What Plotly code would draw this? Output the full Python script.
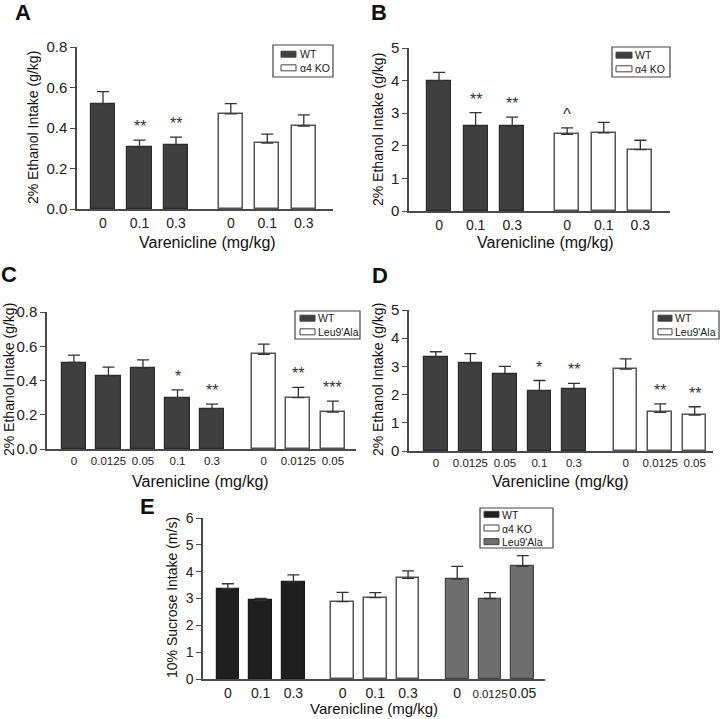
import plotly.graph_objects as go

# ---------------- DATA ----------------
# Panel A: 2% ethanol intake, WT vs a4 KO
a_doses_wt = ["0", "0.1", "0.3"]
a_doses_ko = ["0", "0.1", "0.3"]
a_wt = [0.52, 0.305, 0.315]
a_wt_err = [0.06, 0.035, 0.04]
a_ko = [0.47, 0.325, 0.41]
a_ko_err = [0.05, 0.045, 0.055]
a_sig_wt = ["", "**", "**"]
a_sig_ko = ["", "", ""]

# Panel B
b_doses_wt = ["0", "0.1", "0.3"]
b_doses_ko = ["0", "0.1", "0.3"]
b_wt = [4.0, 2.6, 2.6]
b_wt_err = [0.25, 0.42, 0.28]
b_ko = [2.35, 2.4, 1.88]
b_ko_err = [0.2, 0.32, 0.29]
b_sig_wt = ["", "**", "**"]
b_sig_ko = ["^", "", ""]

# Panel C
c_doses_wt = ["0", "0.0125", "0.05", "0.1", "0.3"]
c_doses_leu = ["0", "0.0125", "0.05"]
c_wt = [0.505, 0.425, 0.472, 0.30, 0.235]
c_wt_err = [0.043, 0.053, 0.048, 0.045, 0.027]
c_leu = [0.553, 0.30, 0.215]
c_leu_err = [0.059, 0.06, 0.065]
c_sig_wt = ["", "", "", "*", "**"]
c_sig_leu = ["", "**", "***"]

# Panel D
d_doses_wt = ["0", "0.0125", "0.05", "0.1", "0.3"]
d_doses_leu = ["0", "0.0125", "0.05"]
d_wt = [3.33, 3.13, 2.73, 2.13, 2.2]
d_wt_err = [0.19, 0.32, 0.27, 0.37, 0.2]
d_leu = [2.9, 1.37, 1.27]
d_leu_err = [0.37, 0.3, 0.3]
d_sig_wt = ["", "", "", "*", "**"]
d_sig_leu = ["", "**", "**"]

# Panel E: 10% sucrose intake
e_doses_wt = ["0", "0.1", "0.3"]
e_doses_ko = ["0", "0.1", "0.3"]
e_doses_leu = ["0", "0.0125", "0.05"]
e_wt = [3.37, 2.93, 3.62]
e_wt_err = [0.18, 0.07, 0.26]
e_ko = [2.88, 3.03, 3.75]
e_ko_err = [0.35, 0.19, 0.28]
e_leu = [3.72, 3.0, 4.2]
e_leu_err = [0.48, 0.22, 0.4]

# ---------------- STYLE ----------------
W, H = 720, 719
FONT = "Liberation Sans, Arial, sans-serif"
AXC = "#4a4a4a"
DARK = "#3f3f3f"
BLACK = "#1f1f1f"
MID = "#6e6e6e"
WHITE = "#ffffff"


def fx(px):
    return px / W


def fy(py):
    return 1 - py / H


fig = go.Figure()
annotations = []
shapes = []


def add_panel(n, xpx, ypx, xrange, yrange, yticks, yfmt, groups, width,
              tickfont_size=14, ytick_size=15):
    xa = "xaxis" if n == 1 else f"xaxis{n}"
    ya = "yaxis" if n == 1 else f"yaxis{n}"
    xr = "x" if n == 1 else f"x{n}"
    yr = "y" if n == 1 else f"y{n}"
    pos = 0.0
    tickvals, ticktext = [], []
    for gi, g in enumerate(groups):
        if gi > 0:
            pos += 0.5
        xs = []
        for lab in g["doses"]:
            xs.append(pos)
            tickvals.append(pos)
            ticktext.append(lab)
            pos += 1
        fig.add_trace(go.Bar(
            x=xs, y=g["vals"], width=width, xaxis=xr, yaxis=yr,
            marker=dict(color=g["color"], line=dict(color=g["line"], width=g.get("lw", 1.2))),
            error_y=dict(type="data", array=g["errs"], arrayminus=[0] * len(g["errs"]),
                         symmetric=False, color="#333333", thickness=1.3, width=6),
            showlegend=False, hoverinfo="skip",
        ))
        for x, v, e, s in zip(xs, g["vals"], g["errs"], g.get("sig", [""] * len(xs))):
            if s:
                caret = s == "^"
                annotations.append(dict(
                    x=x, y=v + e, xref=xr, yref=yr, text=s, showarrow=False,
                    yanchor="bottom", yshift=3 if not caret else 2,
                    font=dict(family=FONT, size=16 if not caret else 17, color="#333333")))
    tf = dict(family=FONT, size=tickfont_size, color="#222222")
    fig.update_layout({
        xa: dict(domain=[fx(xpx[0]), fx(xpx[1])], range=xrange, anchor=yr,
                 showline=True, linecolor=AXC, linewidth=1.5, ticks="",
                 tickvals=tickvals, ticktext=ticktext, tickfont=tf, tickangle=0,
                 showgrid=False, zeroline=False, fixedrange=True, automargin=False),
        ya: dict(domain=[fy(ypx[1]), fy(ypx[0])], range=yrange, anchor=xr,
                 showline=True, linecolor=AXC, linewidth=1.5, ticks="outside",
                 ticklen=5, tickwidth=1.3, tickcolor=AXC, tickvals=yticks,
                 tickformat=yfmt, tickfont=dict(family=FONT, size=ytick_size, color="#222222"),
                 showgrid=False, zeroline=False, fixedrange=True, automargin=False),
    })


def legend_box(box, items, swatch_x, text_x, size=10.5):
    """Legend drawn as a bordered box, swatches and one multi-line label."""
    x0, y0, x1, y1 = box
    shapes.append(dict(type="rect", xref="paper", yref="paper",
                       x0=fx(x0), x1=fx(x1), y0=fy(y1), y1=fy(y0),
                       line=dict(color="#444444", width=1.2), fillcolor="white"))
    step = 1.3 * size
    n = len(items)
    yc_mid = (y0 + y1) / 2
    for i, (lab, color) in enumerate(items):
        yc = yc_mid + (i - (n - 1) / 2) * step
        shapes.append(dict(type="rect", xref="paper", yref="paper",
                           x0=fx(swatch_x[0]), x1=fx(swatch_x[1]),
                           y0=fy(yc + 3), y1=fy(yc - 3),
                           line=dict(color="#444444", width=1), fillcolor=color))
    annotations.append(dict(x=fx(text_x), y=fy(yc_mid), xref="paper", yref="paper",
                            text="<br>".join(lab for lab, _ in items), showarrow=False,
                            xanchor="left", yanchor="middle", align="left", borderpad=0,
                            font=dict(family=FONT, size=size, color="#222222")))


def label(text, x, y, size=22, bold=True, angle=0, anchor="center"):
    annotations.append(dict(x=fx(x), y=fy(y), xref="paper", yref="paper",
                            text=f"<b>{text}</b>" if bold else text, showarrow=False,
                            textangle=angle, xanchor=anchor, yanchor="middle",
                            font=dict(family=FONT, size=size, color="#111111")))


# Panel A
add_panel(1, (77, 333), (47, 209), [-0.712, 6.30], [0, 0.8], [0, 0.2, 0.4, 0.6, 0.8], ".1f",
          [dict(doses=a_doses_wt, vals=a_wt, errs=a_wt_err, color=DARK, line="#2a2a2a", sig=a_sig_wt),
           dict(doses=a_doses_ko, vals=a_ko, errs=a_ko_err, color=WHITE, line="#555555", lw=1.5, sig=a_sig_ko)],
          0.66)
# Panel B
add_panel(2, (409, 670), (48, 211), [-0.82, 6.31], [0, 5], [0, 1, 2, 3, 4, 5], "d",
          [dict(doses=b_doses_wt, vals=b_wt, errs=b_wt_err, color=DARK, line="#2a2a2a", sig=b_sig_wt),
           dict(doses=b_doses_ko, vals=b_ko, errs=b_ko_err, color=WHITE, line="#555555", lw=1.5, sig=b_sig_ko)],
          0.66)
# Panel C
add_panel(3, (47, 356), (312, 449), [-0.78, 8.17], [0, 0.8], [0, 0.2, 0.4, 0.6, 0.8], ".1f",
          [dict(doses=c_doses_wt, vals=c_wt, errs=c_wt_err, color=DARK, line="#2a2a2a", sig=c_sig_wt),
           dict(doses=c_doses_leu, vals=c_leu, errs=c_leu_err, color=WHITE, line="#555555", lw=1.5, sig=c_sig_leu)],
          0.7, tickfont_size=11.5)
# Panel D
add_panel(4, (409, 713), (310, 451), [-0.78, 8.03], [0, 5], [0, 1, 2, 3, 4, 5], "d",
          [dict(doses=d_doses_wt, vals=d_wt, errs=d_wt_err, color=DARK, line="#2a2a2a", sig=d_sig_wt),
           dict(doses=d_doses_leu, vals=d_leu, errs=d_leu_err, color=WHITE, line="#555555", lw=1.5, sig=d_sig_leu)],
          0.68, tickfont_size=11.5)
# Panel E
e_leu_labels = [d if d != "0.0125" else f"<span style='font-size:11.5px'>{d}</span>"
                for d in e_doses_leu]
add_panel(5, (203, 545), (518, 679), [-0.76, 9.68], [0, 6], [0, 1, 2, 3, 4, 5, 6], "d",
          [dict(doses=e_doses_wt, vals=e_wt, errs=e_wt_err, color=BLACK, line="#1a1a1a"),
           dict(doses=e_doses_ko, vals=e_ko, errs=e_ko_err, color=WHITE, line="#555555", lw=1.5),
           dict(doses=e_leu_labels, vals=e_leu, errs=e_leu_err, color=MID, line="#444444")],
          0.69, tickfont_size=14, ytick_size=14)

# Legends
legend_box((273, 45, 333, 77), [("WT", DARK), ("α4 KO", WHITE)], (281, 296), 299)
legend_box((612, 47, 670, 77), [("WT", DARK), ("α4 KO", WHITE)], (616, 632), 634)
legend_box((295, 311, 360, 339), [("WT", DARK), ("Leu9'Ala", WHITE)], (300, 315), 317)
legend_box((653, 311, 719, 339), [("WT", DARK), ("Leu9'Ala", WHITE)], (658, 672), 674)
legend_box((480, 508, 553, 548), [("WT", BLACK), ("α4 KO", WHITE), ("Leu9'Ala", MID)],
           (484, 499), 501)

# Panel letters
label("A", 23, 13)
label("B", 379, 13)
label("C", 9, 274)
label("D", 380, 275)
label("E", 147, 506)

# Axis titles
ytitle = "2% Ethanol Intake (g/kg)"
label(ytitle, 33, 128, size=14, bold=False, angle=-90)
label(ytitle, 378, 130, size=14, bold=False, angle=-90)
label(ytitle, 9, 380, size=14, bold=False, angle=-90)
label(ytitle, 378, 380, size=14, bold=False, angle=-90)
label("10% Sucrose Intake (m/s)", 172, 598, size=14, bold=False, angle=-90)
xtitle = "Varenicline (mg/kg)"
label(xtitle, 208, 242, size=16, bold=False)
label(xtitle, 545, 242, size=16, bold=False)
label(xtitle, 200, 481, size=16, bold=False)
label(xtitle, 560, 481, size=16, bold=False)
label(xtitle, 374, 708, size=15, bold=False)

fig.update_layout(
    width=W, height=H, margin=dict(l=0, r=0, t=0, b=0, pad=0, autoexpand=False),
    paper_bgcolor="white", plot_bgcolor="white",
    showlegend=False, bargap=0,
    annotations=annotations, shapes=shapes,
    font=dict(family=FONT),
)

fig.write_html("out.html", config={"displayModeBar": False},
               post_script="document.body.style.margin='0';")
